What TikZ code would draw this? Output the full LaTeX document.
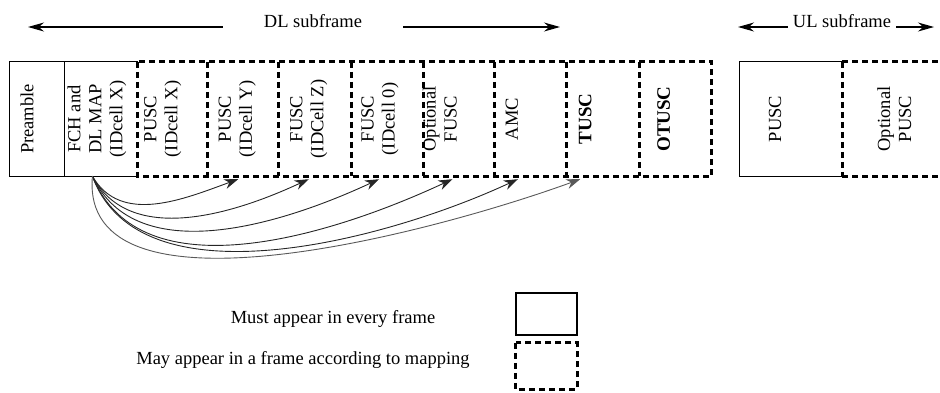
\documentclass[tikz,border=0pt]{standalone}
\usepackage{fontspec}
\setmainfont{Liberation Serif}
\usetikzlibrary{arrows.meta}
\usetikzlibrary{positioning}

\begin{document}
\begin{tikzpicture}[x=1pt, y=1pt, node distance=0pt,
	every node/.style={inner sep=0pt, font=\fontsize{18.5}{21}\selectfont},
	slot/.style={minimum width=#1, minimum height=114pt},
	frameline/.style={line width=1.1pt},
	mapdash/.style={line width=3pt, dash pattern=on 6pt off 4pt},
	txt/.style={rotate=90, align=center},
	span/.style={-{Stealth[length=16pt,width=9pt]}, line width=1.1pt},
	jump/.style={-{Stealth[length=14pt,width=10pt]}, line width=0.9pt, black!85}]
	
	\useasboundingbox (0,0) rectangle (940,-392);
	
	% DL subframe
	\node[slot=54pt] (pre) at (37,-119) {};
	\node[slot=73pt, right=of pre] (fch) {};
	\node[slot=69pt, right=of fch] (puscx) {};
	\node[slot=71pt, right=of puscx] (puscy) {};
	\node[slot=73pt, right=of puscy] (fuscz) {};
	\node[slot=71pt, right=of fuscz] (fusc0) {};
	\node[slot=71pt, right=of fusc0] (optf) {};
	\node[slot=71pt, right=of optf] (amc) {};
	\node[slot=73pt, right=of amc] (tusc) {};
	\node[slot=72pt, right=of tusc] (otusc) {};
	
	% UL subframe
	\node[slot=102pt] (ulpusc) at (791,-119) {};
	\node[slot=98pt, right=of ulpusc] (optp) {};
	
	% outlines
	\draw[frameline] (fch.north east) -- (pre.north west) -- (pre.south west) -- (fch.south east);
	\draw[frameline] (pre.north east) -- (pre.south east);
	\draw[mapdash] (fch.north east) rectangle (otusc.south east);
	\draw[mapdash] (puscx.north east) -- (puscx.south east);
	\draw[mapdash] (puscy.north east) -- (puscy.south east);
	\draw[mapdash] (fuscz.north east) -- (fuscz.south east);
	\draw[mapdash] (fusc0.north east) -- (fusc0.south east);
	\draw[mapdash] (optf.north east) -- (optf.south east);
	\draw[mapdash] (amc.north east) -- (amc.south east);
	\draw[mapdash] (tusc.north east) -- (tusc.south east);
	\draw[frameline] (ulpusc.north east) -- (ulpusc.north west) -- (ulpusc.south west) -- (ulpusc.south east);
	\draw[mapdash] (ulpusc.north east) -- (ulpusc.south east);
	\draw[mapdash] (ulpusc.north east) -- (optp.north east);
	\draw[mapdash] (ulpusc.south east) -- (optp.south east);
	
	% labels in the boxes
	\node[txt] (preT) at ([xshift=-10pt]pre.center) {Preamble};
	\node[txt] (fchT) at ([xshift=-4pt]fch.center) {FCH and\\DL MAP\\(IDcell X)};
	\node[txt] (puscxT) at ([xshift=-9.5pt]puscx.center) {PUSC\\(IDcell X)};
	\node[txt] (puscyT) at ([xshift=-5.5pt]puscy.center) {PUSC\\(IDcell Y)};
	\node[txt] (fusczT) at ([xshift=-6.5pt]fuscz.center) {FUSC\\(IDCell Z)};
	\node[txt] (fusc0T) at ([xshift=-7.5pt]fusc0.center) {FUSC\\(IDcell 0)};
	\node[txt] (optfT) at ([xshift=-19pt]optf.center) {Optional\\FUSC};
	\node[txt] (amcT) at ([xshift=-18.5pt]amc.center) {AMC};
	\node[txt, font=\fontsize{19}{21}\selectfont\bfseries] (tuscT) at ([xshift=-17.5pt]tusc.center) {TUSC};
	\node[txt, font=\fontsize{19}{21}\selectfont\bfseries] (otuscT) at ([xshift=-12pt]otusc.center) {OTUSC};
	\node[txt] (ulpuscT) at ([xshift=-16pt]ulpusc.center) {PUSC};
	\node[txt] (optpT) at ([xshift=3pt]optp.center) {Optional\\PUSC};
	
	% subframe spans
	\node[inner xsep=41pt, anchor=base] (dl) at (313,-27) {DL subframe};
	\coordinate (dlL) at (28,-27);
	\coordinate (dlR) at (560,-27);
	\draw[span] (dl.base west) -- (dlL);
	\draw[span] (dl.base east) -- (dlR);
	\node[inner xsep=5pt, anchor=base] (ul) at (842,-27) {UL subframe};
	\coordinate (ulL) at (738,-27);
	\coordinate (ulR) at (934,-27);
	\draw[span] (ul.base west) -- (ulL);
	\draw[span] (ul.base east) -- (ulR);
	
	% mapping arrows
	\coordinate (src) at ([xshift=-8.5pt]fch.south);
	\coordinate (t1) at ([xshift=-4.5pt,yshift=-3pt]puscy.south);
	\coordinate (t2) at ([xshift=-6.5pt,yshift=-3pt]fuscz.south);
	\coordinate (t3) at ([xshift=-8.5pt,yshift=-3pt]fusc0.south);
	\coordinate (t4) at ([xshift=-6.5pt,yshift=-3pt]optf.south);
	\coordinate (t5) at ([xshift=-12.5pt,yshift=-3pt]amc.south);
	\coordinate (t6) at ([xshift=-22.5pt,yshift=-3pt]tusc.south);
	\draw[jump] (src) to[out=-60, in=200, looseness=1] (t1);
	\draw[jump] (src) to[out=-62, in=205, looseness=0.95] (t2);
	\draw[jump] (src) to[out=-65, in=205, looseness=0.93] (t3);
	\draw[jump] (src) to[out=-68, in=205, looseness=0.92] (t4);
	\draw[jump] (src) to[out=-70, in=205, looseness=0.84] (t5);
	\draw[jump, black!65] (src) to[out=-95, in=200, looseness=0.8] (t6);
	
	% key
	\node (mustT) at (333,-319) {Must appear in every frame};
	\node (mayT) at (303,-360) {May appear in a frame according to mapping};
	\node[draw, frameline, minimum width=61pt, minimum height=42pt] (mustkey) at (546.5,-314) {};
	\node[minimum width=61pt, minimum height=46pt] (maykey) at (546.5,-366) {};
	\draw[mapdash] (maykey.north west) rectangle (maykey.south east);
	
\end{tikzpicture}
\end{document}
